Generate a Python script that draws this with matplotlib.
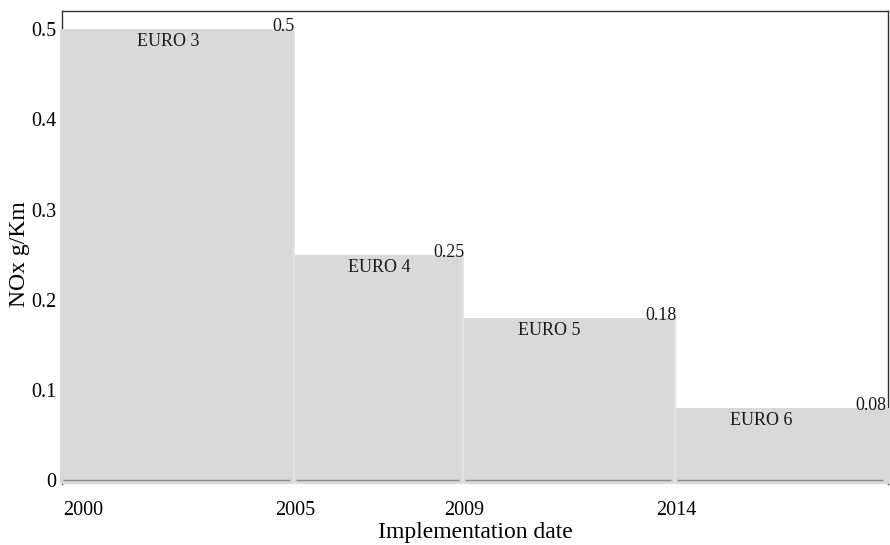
import matplotlib
matplotlib.use("Agg")
import matplotlib.pyplot as plt

# ---- data ----
standards = ["EURO 3", "EURO 4", "EURO 5", "EURO 6"]
start_years = [2000, 2005, 2009, 2014]
end_year = 2019
nox_limits = [0.5, 0.25, 0.18, 0.08]
value_labels = ["0.5", "0.25", "0.18", "0.08"]
x_tick_labels = ["2000", "2005", "2009", "2014"]
y_ticks = [0, 0.1, 0.2, 0.3, 0.4, 0.5]
y_tick_labels = ["0", "0.1", "0.2", "0.3", "0.4", "0.5"]

plt.rcParams["font.family"] = ["Liberation Serif", "DejaVu Serif"]

fig = plt.figure(figsize=(8.9, 5.45), dpi=100)
ax = fig.add_axes([62 / 890, 1 - 484 / 545, 826 / 890, 473 / 545])

x_min, x_max = 1999.5, end_year
y_min, y_max = -0.004, 0.52
ax.set_xlim(x_min, x_max)
ax.set_ylim(y_min, y_max)

ends = start_years[1:] + [end_year]
gap = 0.05
over = 0.04  # cover the frame line under the outer bars
fill_col = "#d9d9d9"
strip_col = "#e3e3e3"
for i, (s, e, v) in enumerate(zip(start_years, ends, nox_limits)):
    first = i == 0
    last = i == len(start_years) - 1
    left = x_min - over if first else s
    right = e + over if last else e - gap
    ax.bar(left, v - y_min, width=right - left, bottom=y_min, align="edge",
           color=fill_col, linewidth=0, zorder=3, clip_on=False)
    if not last:
        ax.bar(right, v - y_min, width=gap, bottom=y_min, align="edge",
               color=strip_col, linewidth=0, zorder=3)
    # zero baseline segment
    ax.plot([(x_min if first else s) + 0.02, e - 0.12], [0, 0],
            color="#8c8c8c", lw=1.0, zorder=4, solid_capstyle="butt")
    # value label at right end of step
    ax.annotate(value_labels[i], (e, v), xytext=(0 if not last else -1.5, -1.5),
                textcoords="offset points", ha="right", va="baseline",
                fontsize=13, color="#1a1a1a", zorder=5)
    # standard name
    ax.annotate(standards[i], (s + 2, v), xytext=(0, -3),
                textcoords="offset points", ha="center", va="top",
                fontsize=13, color="#1a1a1a", zorder=5)

for sp in ["top", "right", "left"]:
    ax.spines[sp].set_color("#333333")
    ax.spines[sp].set_linewidth(1.0)
    ax.spines[sp].set_zorder(1)
ax.spines["bottom"].set_visible(False)

ax.set_xticks(start_years)
ax.set_xticklabels(x_tick_labels, fontsize=14.5)
ax.set_yticks(y_ticks)
ax.set_yticklabels(y_tick_labels, fontsize=14.5)
ax.tick_params(axis="x", length=0, pad=12)
ax.tick_params(axis="y", length=0, pad=4)

ax.set_xlabel("Implementation date", fontsize=17, labelpad=2)
ax.set_ylabel("NOx g/Km", fontsize=17)
ax.yaxis.set_label_coords(-0.039, 0.485)

fig.savefig("out.png", dpi=100)
